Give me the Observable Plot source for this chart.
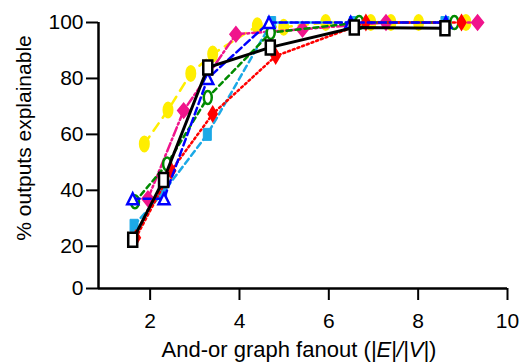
<!DOCTYPE html>
<html>
<head>
<meta charset="utf-8">
<script src="https://cdn.jsdelivr.net/npm/d3@7"></script>
<script src="https://cdn.jsdelivr.net/npm/@observablehq/plot@0.6"></script>
<style>
  html, body { margin: 0; padding: 0; background: #fff; }
  #chart svg { display: block; overflow: visible; }
</style>
</head>
<body>
<div id="chart"></div>
<script>
// ---- data ----
const blackX   = [1.61, 2.30, 3.29, 4.69, 6.57, 8.60];
const blackY   = [22.3, 43.7, 83.9, 91.1, 98.2, 97.9];
const yellowX  = [1.87, 2.40, 2.91, 3.40, 4.40, 4.99, 5.93, 6.94, 7.39, 8.01, 9.07];
const yellowY  = [56.6, 68.7, 81.8, 88.7, 98.8, 98.3, 100, 100, 100, 100, 100];
const magentaX = [1.95, 2.75, 3.92, 5.41, 7.28, 9.33];
const magentaY = [37.0, 68.5, 95.8, 97.6, 100, 100];
const cyanX    = [1.64, 2.28, 3.28, 4.72, 6.55, 8.60];
const cyanY    = [27.5, 39.0, 60.0, 100, 100, 100];
const greenX   = [1.66, 2.38, 3.29, 4.70, 6.68, 8.81];
const greenY   = [35.9, 49.4, 73.2, 96.4, 100, 100];
const redX     = [1.68, 2.47, 3.40, 4.81, 6.83, 8.97];
const redY     = [23.0, 47.0, 67.3, 88.0, 100, 100];
const blueX    = [1.61, 2.31, 3.29, 4.66, 6.49, 8.62];
const blueY    = [37.0, 37.0, 80.0, 100, 100, 100];

const xTicks = [2, 4, 6, 8, 10];
const yTicks = [0, 20, 40, 60, 80, 100];
const yTickLabels = ["0", "20", "40", "60", "80", "100"];
const xLabel = ["And-or graph fanout (", "|E|/|V|", ")"];
const yLabel = "% outputs explainable";

// ---- marker shapes (symbol type interface) ----
const K = 0.5523;
function ellipse(rx, ry) {
  return {draw(c) {
    const kx = rx * K, ky = ry * K;
    c.moveTo(rx, 0);
    c.bezierCurveTo(rx, ky, kx, ry, 0, ry);
    c.bezierCurveTo(-kx, ry, -rx, ky, -rx, 0);
    c.bezierCurveTo(-rx, -ky, -kx, -ry, 0, -ry);
    c.bezierCurveTo(kx, -ry, rx, -ky, rx, 0);
    c.closePath();
  }};
}
function box(w, h) { return {draw(c) { c.rect(-w / 2, -h / 2, w, h); }}; }
function tri(w, h) { return {draw(c) { c.moveTo(0, -h / 2); c.lineTo(w / 2, h / 2); c.lineTo(-w / 2, h / 2); c.closePath(); }}; }
function diamond(w, h) { return {draw(c) { c.moveTo(0, -h / 2); c.lineTo(w / 2, 0); c.lineTo(0, h / 2); c.lineTo(-w / 2, 0); c.closePath(); }}; }

const series = [
  {name: "yellow",  X: yellowX,  Y: yellowY,  color: "#ffee00", dash: "9,7",     sym: ellipse(4.5, 7.5), fill: "#ffee00", sw: 2},
  {name: "magenta", X: magentaX, Y: magentaY, color: "#f0148c", dash: "9,3,2,3", sym: diamond(12, 15),  fill: "#f0148c", sw: 1.5},
  {name: "cyan",    X: cyanX,    Y: cyanY,    color: "#1ca9e6", dash: "6,4",     sym: box(8, 12),        fill: "#1ca9e6", sw: 1},
  {name: "green",   X: greenX,   Y: greenY,   color: "#008a00", dash: "5,4",     sym: ellipse(4, 6.5),   fill: "white",   sw: 2.5},
  {name: "red",     X: redX,     Y: redY,     color: "#ff0000", dash: "2,3",     sym: diamond(9, 15),    fill: "#ff0000", sw: 1.5},
  {name: "blue",    X: blueX,    Y: blueY,    color: "#0000ff", dash: "7,4",     sym: tri(11, 11),       fill: "white",   sw: 2.5},
  {name: "black",   X: blackX,   Y: blackY,   color: "#000000", dash: null,      sym: box(9, 14),        fill: "white",   sw: 2.5}
];

const xMin = 0.844, yBase = 4.9;
const FONT = "'Liberation Sans', Arial, sans-serif";

const marks = [];
for (const s of series) {
  const data = s.X.map((x, i) => ({x, y: s.Y[i]}));
  marks.push(Plot.line(data, {x: "x", y: "y", stroke: s.color, strokeWidth: s.name === "black" ? 3 : 2.5,
    strokeDasharray: s.dash || undefined}));
  marks.push(Plot.dot(data, {x: "x", y: "y", r: 1, symbol: s.sym, fill: s.fill, stroke: s.color, strokeWidth: s.sw}));
}

const chart = Plot.plot({
  width: 520,
  height: 364,
  marginLeft: 98,
  marginRight: 13,
  marginTop: 22,
  marginBottom: 76,
  style: `font-family: ${FONT}; font-size: 21px; color: #000; background: #fff;`,
  x: {domain: [xMin, 10]},
  y: {domain: [yBase, 100]},
  marks: [
    Plot.axisX({ticks: xTicks, tickSize: 12, tickPadding: 13, strokeWidth: 2, label: null, fontSize: 21}),
    Plot.axisY({ticks: yTicks.map(v => Math.max(v, yBase)),
      tickFormat: d => yTickLabels[yTicks.indexOf(d < 10 ? 0 : Math.round(d))],
      tickSize: 12, tickPadding: 3, strokeWidth: 2, label: null, fontSize: 21}),
    Plot.ruleY([yBase], {stroke: "black", strokeWidth: 2.5}),
    Plot.ruleX([xMin], {stroke: "black", strokeWidth: 2.5}),
    ...marks
  ]
});
document.getElementById("chart").appendChild(chart);

// axis titles
const svg = d3.select(chart);
const xt = svg.append("text")
  .attr("x", 299).attr("y", 357)
  .attr("text-anchor", "middle")
  .attr("style", `font-family: ${FONT}`)
  .attr("font-size", 22).attr("fill", "black");
xt.append("tspan").text(xLabel[0]);
xt.append("tspan").attr("font-style", "italic").text(xLabel[1]);
xt.append("tspan").text(xLabel[2]);
svg.append("text")
  .attr("transform", "translate(31,138) rotate(-90)")
  .attr("text-anchor", "middle")
  .attr("style", `font-family: ${FONT}`)
  .attr("font-size", 21).attr("fill", "black")
  .text(yLabel);
</script>
</body>
</html>
